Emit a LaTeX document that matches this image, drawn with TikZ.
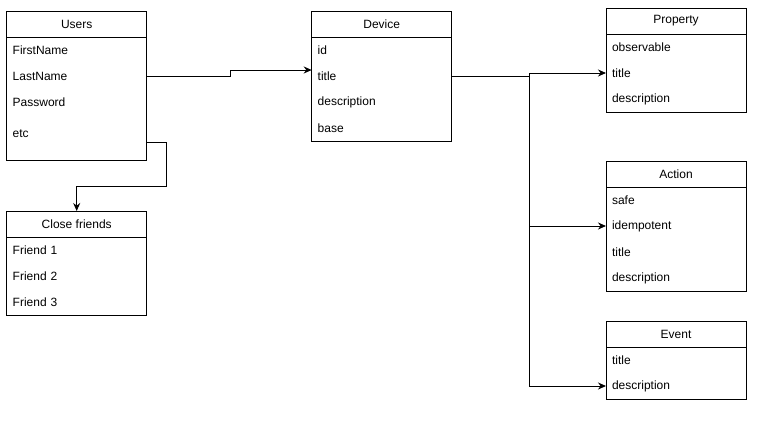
\documentclass[tikz,border=0pt]{standalone}
\usepackage{fontspec}
\setmainfont{Liberation Sans}
\usetikzlibrary{positioning, arrows.meta}

\begin{document}
\begin{tikzpicture}[x=1pt, y=-1pt,
    every node/.style={font=\fontsize{12}{14}\selectfont, outer sep=0pt},
    head/.style={draw, line width=1pt, fill=white, minimum width=140pt, minimum height=26pt, inner sep=0pt},
    body/.style={draw, line width=1pt, fill=white, minimum width=140pt, inner sep=0pt},
    row/.style={text width=128pt, inner xsep=6pt, inner ysep=0pt, minimum height=26pt, align=left},
    link/.style={line width=1pt, -{Stealth[length=8pt, width=7pt]}}]
  \useasboundingbox (0,0) rectangle (773,421);
  % Users table
  \node[head] (users) at (76.7,24) {Users};
  \node[body, minimum height=123pt, below=0pt of users] (users-body) {};
  \node[row, below=0pt of users] (users-first) {FirstName};
  \node[row, below=0pt of users-first] (users-last) {LastName};
  \node[row, below=0pt of users-last] (users-pass) {Password};
  \node[row, below=6pt of users-pass] (users-etc) {etc};
  % Close friends table
  \node[head] (friends) at (76.7,224) {Close friends};
  \node[body, minimum height=78pt, below=0pt of friends] (friends-body) {};
  \node[row, below=0pt of friends] (friends-one) {Friend 1};
  \node[row, below=0pt of friends-one] (friends-two) {Friend 2};
  \node[row, below=0pt of friends-two] (friends-three) {Friend 3};
  % Device table
  \node[head] (device) at (381.7,24) {Device};
  \node[body, minimum height=104pt, below=0pt of device] (device-body) {};
  \node[row, below=0pt of device] (device-id) {id};
  \node[row, below=0pt of device-id] (device-title) {title};
  \node[row, below=0pt of device-title] (device-desc) {description};
  \node[row, below=0pt of device-desc] (device-base) {base};
  % Property table
  \node[head] (prop) at (676,21) {Property};
  \node[body, minimum height=78pt, below=0pt of prop] (prop-body) {};
  \node[row, below=0pt of prop] (prop-obs) {observable};
  \node[row, below=0pt of prop-obs] (prop-title) {title};
  \node[row, below=0pt of prop-title] (prop-desc) {description};
  % Action table
  \node[head] (action) at (676,174) {Action};
  \node[body, minimum height=104pt, below=0pt of action] (action-body) {};
  \node[row, below=0pt of action] (action-safe) {safe};
  \node[row, below=0pt of action-safe] (action-idem) {idempotent};
  \node[row, below=0pt of action-idem] (action-title) {title};
  \node[row, below=0pt of action-title] (action-desc) {description};
  % Event table
  \node[head] (event) at (676,334) {Event};
  \node[body, minimum height=52pt, below=0pt of event] (event-body) {};
  \node[row, below=0pt of event] (event-title) {title};
  \node[row, below=0pt of event-title] (event-desc) {description};
  % Connectors
  \coordinate (device-in) at ([yshift=6pt]device-title.west);
  \coordinate (users-out) at ([yshift=-8pt]users-etc.east);
  \draw[link] (users-last.east) -- ++(84,0) |- (device-in);
  \draw[link] (users-out) -- ++(20,0) -- ++(0,44) -| (friends.north);
  \draw[link] (device-title.east) -- ++(78,0) |- (prop-title.west);
  \draw[link] (device-title.east) -- ++(78,0) |- (action-idem.west);
  \draw[link] (device-title.east) -- ++(78,0) |- (event-desc.west);
\end{tikzpicture}
\end{document}
